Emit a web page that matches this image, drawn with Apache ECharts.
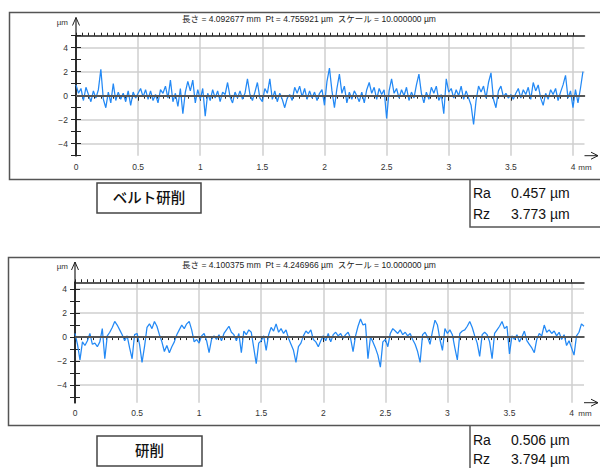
<!DOCTYPE html>
<html>
<head>
<meta charset="utf-8">
<title>粗さ曲線</title>
<script src="https://cdn.jsdelivr.net/npm/echarts@6/dist/echarts.min.js"></script>
<style>
  html, body { margin: 0; padding: 0; background: #fff; }
  #main { width: 600px; height: 468px; }
</style>
</head>
<body>
<div id="main"></div>
<script>
// 粗さ曲線 (0.02 mm ごとに図から読み取った値, µm)
const step = 0.02
const beltProfile = [
  0.9, 0.2, 0.6, -0.4, 0.7, 0.1, -0.5, 0.4, -0.2, 0.5,
  2.2, -0.3, -1.0, 0.3, -0.6, 1.0, -0.4, 0.3, -0.3, 0.2,
  -0.5, 0.4, -0.8, 0.3, -0.2, 0.2, 0.6, -0.1, 0.5, -0.3,
  0.4, -0.4, 0.1, -0.6, 0.5, 0.2, 0.8, -0.2, 1.3, -0.5,
  0.2, -0.9, 0.6, -1.5, 0.3, 1.2, 0.4, 1.3, -0.6, 0.5,
  -0.3, 0.6, -1.7, 0.2, -0.4, 0.5, -0.2, 0.4, -0.5, 0.3,
  0.1, 1.1, -0.1, -0.6, 0.3, -0.2, 0.4, -0.3, 0.2, 1.4,
  0.1, -0.4, 0.3, 1.1, -0.2, -0.5, 0.6, 0.2, 1.4, -0.3,
  0.4, -0.5, 0.2, -0.3, -1.0, -0.2, 0.1, -0.4, 0.7, 0.2,
  0.8, -0.1, 0.6, -0.3, 0.4, -0.2, 0.3, -0.4, 0.2, 0.5,
  -0.8, 1.2, 2.3, 0.4, -1.0, 0.6, 1.8, 0.2, 0.8, -0.6,
  0.3, -0.3, 0.4, 0.0, -0.5, 0.3, -0.6, 0.5, 1.1, 0.2,
  0.7, -0.3, 0.6, 0.1, 0.5, -1.9, 0.4, 1.4, 0.2, 0.6,
  -0.2, 0.5, 0.0, 0.7, -0.4, 0.3, -0.2, 0.9, 1.8, 0.2,
  -0.6, 0.3, -0.3, 0.7, 0.2, 0.8, -0.4, 0.1, -1.5, 1.4,
  0.3, 0.6, -0.2, 0.5, 0.0, 0.8, -0.3, 0.4, -0.2, -0.8,
  -2.4, -0.4, 0.8, 0.3, 0.8, -0.2, 1.1, 1.9, -0.3, -1.0,
  0.4, 0.8, -0.1, 0.2, -0.2, 0.1, -0.3, 0.2, 0.6, -0.2,
  0.5, 0.1, 0.7, -0.3, 1.1, 0.4, 0.9, -0.2, -0.8, 0.2,
  -0.3, 0.5, 0.1, 0.6, -0.4, 0.3, 0.9, 1.7, -0.2, 0.4,
  -1.0, 0.5, -0.6, 0.6, 2.0
]
const grindProfile = [
  0.3, -0.6, -1.9, -0.4, -0.7, -0.3, 0.3, -0.6, -0.5, -0.8,
  -0.4, 0.7, -1.8, 0.1, 0.4, 0.8, 1.3, 1.0, 0.6, 0.2,
  -0.3, 0.1, -0.9, -1.8, 0.2, 0.3, -0.6, -2.1, -0.8, 0.8,
  1.1, 0.7, 1.3, 0.9, 0.2, -0.4, -1.2, -0.7, -1.3, -0.8,
  -0.4, 0.2, 0.6, 1.0, 0.7, 1.1, 1.3, 0.6, -0.4, -0.2,
  -0.5, 0.1, 0.3, -0.3, -1.3, -0.2, 0.1, -0.2, 0.2, -0.3,
  0.3, 0.6, 0.9, 0.4, 0.2, -0.3, 0.3, -1.3, 0.5, 0.2,
  0.6, 0.4, -0.9, -2.2, -0.5, -0.3, 0.1, -1.1, 0.2, 0.8,
  0.5, 1.1, 0.4, 0.7, 0.3, 0.6, -0.1, -0.6, -1.1, -2.1,
  -0.8, -0.5, 0.1, 0.5, 0.3, 0.6, -0.2, -0.4, -0.8, -0.3,
  0.1, -0.3, 0.3, -0.4, 0.2, 0.4, 0.1, 0.3, -0.1, 0.2,
  0.4, -0.1, -1.2, 0.1, 0.9, 1.5, 1.0, 1.1, -1.8, 0.0,
  -0.4, -0.9, -1.5, -2.5, -0.4, -0.2, -0.8, 0.3, 0.7, 0.5,
  0.3, 0.6, 0.2, 0.4, 0.1, 0.3, -0.2, -0.6, -1.2, -2.1,
  0.2, 0.4, 0.0, -0.6, 0.5, 1.4, 1.0, -0.2, -1.1, 0.7,
  0.3, 0.6, 0.2, -0.9, -1.9, 0.3, 0.5, 0.6, 0.9, 1.3,
  0.8, 0.1, -0.5, -1.6, 0.2, 0.4, 0.2, -0.4, -1.8, 0.3,
  0.6, 0.9, 1.3, 0.7, 0.9, -1.4, 0.1, -0.2, 0.2, -0.4,
  0.0, 0.5, -0.3, -0.6, -0.9, -1.3, -0.2, 0.3, 0.1, 1.0,
  0.4, 0.6, 0.3, 0.5, 0.1, 0.4, -0.2, 0.2, -0.7, -0.3,
  -0.9, -1.5, 0.1, 0.4, 1.1, 0.9
]

const xLabels = [0, 0.5, 1, 1.5, 2, 2.5, 3, 3.5, 4]
const yLabels = [-4, -2, 0, 2, 4]
const yTicks = [-5, -4, -3, -2, -1, 0, 1, 2, 3, 4, 5]
const xMinorTicks = []
for (let t = 0; t <= 80; t++) xMinorTicks.push(+(t * 0.05).toFixed(2))

const panelNames = ['ベルト研削', '研削']
const lengths = [4.092677, 4.100375]
const ptValues = ['4.755921', '4.246966']
const raValues = ['0.457', '0.506']
const rzValues = ['3.773', '3.794']
const yRanges = [[-5, 5], [-5.45, 4.55]]

const chartInstance = echarts.init(document.getElementById('main'), null, { renderer: 'svg' })

const FONT = "'Liberation Sans', 'Noto Sans CJK JP', sans-serif"
const AXIS_COLOR = '#222'
const GRID_COLOR = '#cfcfcf'
const LINE_COLOR = '#2389f5'

// パネルごとのレイアウト (px)
const layouts = [
  { left: 76, top: 35.7, width: 508.5, height: 120, frameTop: 12.5, frameBottom: 179.5, frameLeft: 9.5,
    titleY: 19, unitY: 22, arrowTip: 17.5, labelMargin: 7,
    box: [97, 183, 104, 30], raY: 193, rzY: 214, raBoxBottom: 227 },
  { left: 75, top: 282.3, width: 509, height: 120.4, frameTop: 257.5, frameBottom: 425.5, frameLeft: 8.5,
    titleY: 265, unitY: 266.5, arrowTip: 262, labelMargin: 6,
    box: [97, 436, 105, 30], raY: 440, rzY: 459, raBoxBottom: 500 }
]

const grids = []
const xAxes = []
const yAxes = []
const series = []
const graphics = []

layouts.forEach((lay, p) => {
  const L = lengths[p]
  const yMin = yRanges[p][0]
  const yMax = yRanges[p][1]
  const ticks = yTicks.filter(v => v >= yMin && v <= yMax)
  grids.push({ left: lay.left, top: lay.top, width: lay.width, height: lay.height })

  // 下軸 (主目盛・ラベル・縦グリッド)
  xAxes.push({
    type: 'value', gridIndex: p, position: 'bottom', min: 0, max: L,
    axisLine: { show: true, lineStyle: { color: AXIS_COLOR, width: 1.5 } },
    axisTick: { show: true, length: 5, customValues: xLabels, lineStyle: { color: AXIS_COLOR } },
    axisLabel: {
      customValues: xLabels, margin: lay.labelMargin, color: '#333', fontSize: 8.5, fontFamily: FONT
    },
    splitLine: { show: true, lineStyle: { color: GRID_COLOR, width: 1.5 } }
  })
  // 下軸 (補助目盛)
  xAxes.push({
    type: 'value', gridIndex: p, position: 'bottom', min: 0, max: L,
    axisLine: { show: false },
    axisTick: { show: true, length: 3, customValues: xMinorTicks, lineStyle: { color: AXIS_COLOR } },
    axisLabel: { show: false },
    splitLine: { show: false }
  })
  // 上軸
  xAxes.push({
    type: 'value', gridIndex: p, position: 'top', min: 0, max: L,
    axisLine: { show: true, lineStyle: { color: AXIS_COLOR, width: 1.5 } },
    axisTick: { show: true, length: 3, customValues: xMinorTicks, lineStyle: { color: AXIS_COLOR } },
    axisLabel: { show: false },
    splitLine: { show: false }
  })

  yAxes.push({
    type: 'value', gridIndex: p, position: 'left', min: yMin, max: yMax,
    axisLine: { show: true, lineStyle: { color: AXIS_COLOR, width: 1.5 } },
    axisTick: { show: true, length: 5, customValues: ticks, lineStyle: { color: AXIS_COLOR } },
    axisLabel: {
      customValues: yLabels, margin: 8, color: '#333', fontSize: 8.5, fontFamily: FONT,
      formatter: v => String(v).replace('-', '−')
    },
    splitLine: {
      show: true,
      lineStyle: { color: ticks[0] % 2 === 0 ? [GRID_COLOR, 'rgba(0,0,0,0)'] : ['rgba(0,0,0,0)', GRID_COLOR], width: 1.5 }
    }
  })
  yAxes.push({
    type: 'value', gridIndex: p, position: 'right', min: yMin, max: yMax,
    axisLine: { show: true, lineStyle: { color: AXIS_COLOR, width: 1.5 } },
    axisTick: { show: true, length: 5, customValues: ticks, lineStyle: { color: AXIS_COLOR } },
    axisLabel: { show: false },
    splitLine: { show: false }
  })

  const profile = p === 0 ? beltProfile : grindProfile
  series.push({
    type: 'line',
    xAxisIndex: p * 3,
    yAxisIndex: p * 2,
    data: profile.map((v, i) => [+(i * step).toFixed(2), v]),
    showSymbol: false,
    symbol: 'none',
    silent: true,
    lineStyle: { color: LINE_COLOR, width: 1.25 },
    markLine: {
      silent: true,
      symbol: 'none',
      label: { show: false },
      lineStyle: { color: '#555', width: 2, type: 'solid' },
      data: [{ yAxis: 0 }]
    }
  })

  const right = lay.left + lay.width
  const bottom = lay.top + lay.height
  // 外枠
  graphics.push({
    type: 'polyline',
    shape: { points: [[620, lay.frameTop], [lay.frameLeft, lay.frameTop], [lay.frameLeft, lay.frameBottom], [620, lay.frameBottom]] },
    style: { stroke: '#555', lineWidth: 1.5, fill: null }
  })
  // タイトル
  graphics.push({
    type: 'text', x: 309, y: lay.titleY,
    style: {
      text: '長さ = ' + lengths[p].toFixed(6) + ' mm  Pt = ' + ptValues[p] + ' µm  スケール = 10.000000 µm',
      fill: '#222', font: '8.5px ' + FONT, align: 'center', verticalAlign: 'middle'
    }
  })
  // y軸の矢印と単位
  graphics.push({
    type: 'polyline',
    shape: { points: [[lay.left, lay.top], [lay.left, lay.arrowTip]] },
    style: { stroke: AXIS_COLOR, lineWidth: 1.2, fill: null }
  })
  graphics.push({
    type: 'polyline',
    shape: { points: [[lay.left - 3.5, lay.arrowTip + 8], [lay.left, lay.arrowTip], [lay.left + 3.5, lay.arrowTip + 8]] },
    style: { stroke: AXIS_COLOR, lineWidth: 1, fill: null }
  })
  graphics.push({
    type: 'text', x: 68, y: lay.unitY,
    style: { text: 'µm', fill: '#333', font: '8px ' + FONT, align: 'right', verticalAlign: 'middle' }
  })
  // x軸の矢印と単位
  graphics.push({
    type: 'polyline',
    shape: { points: [[right, bottom], [598, bottom]] },
    style: { stroke: AXIS_COLOR, lineWidth: 1, fill: null }
  })
  graphics.push({
    type: 'polyline',
    shape: { points: [[591, bottom - 3.5], [598, bottom], [591, bottom + 3.5]] },
    style: { stroke: AXIS_COLOR, lineWidth: 1, fill: null }
  })
  graphics.push({
    type: 'text', x: 585, y: bottom + lay.labelMargin + 4.5,
    style: { text: 'mm', fill: '#333', font: '8px ' + FONT, align: 'center', verticalAlign: 'middle' }
  })
  // 試料名の枠
  graphics.push({
    type: 'rect',
    shape: { x: lay.box[0], y: lay.box[1], width: lay.box[2], height: lay.box[3] },
    style: { stroke: '#444', lineWidth: 1.5, fill: '#fff' }
  })
  graphics.push({
    type: 'text', x: lay.box[0] + lay.box[2] / 2, y: lay.box[1] + lay.box[3] / 2,
    style: { text: panelNames[p], fill: '#111', font: '500 14.5px ' + FONT, align: 'center', verticalAlign: 'middle' }
  })
  // Ra / Rz
  graphics.push({
    type: 'polyline',
    shape: { points: [[470, lay.frameBottom], [470, lay.raBoxBottom], [620, lay.raBoxBottom]] },
    style: { stroke: '#555', lineWidth: 1.5, fill: null }
  })
  const rows = [['Ra', raValues[p], lay.raY], ['Rz', rzValues[p], lay.rzY]]
  rows.forEach(r => {
    graphics.push({
      type: 'text', x: 473, y: r[2],
      style: { text: r[0], fill: '#111', font: '14px ' + FONT, align: 'left', verticalAlign: 'middle' }
    })
    graphics.push({
      type: 'text', x: 511, y: r[2],
      style: { text: r[1] + ' µm', fill: '#111', font: '14px ' + FONT, align: 'left', verticalAlign: 'middle' }
    })
  })
})

chartInstance.setOption({
  animation: false,
  backgroundColor: '#fff',
  grid: grids,
  xAxis: xAxes,
  yAxis: yAxes,
  series: series,
  graphic: graphics
})
</script>
</body>
</html>
